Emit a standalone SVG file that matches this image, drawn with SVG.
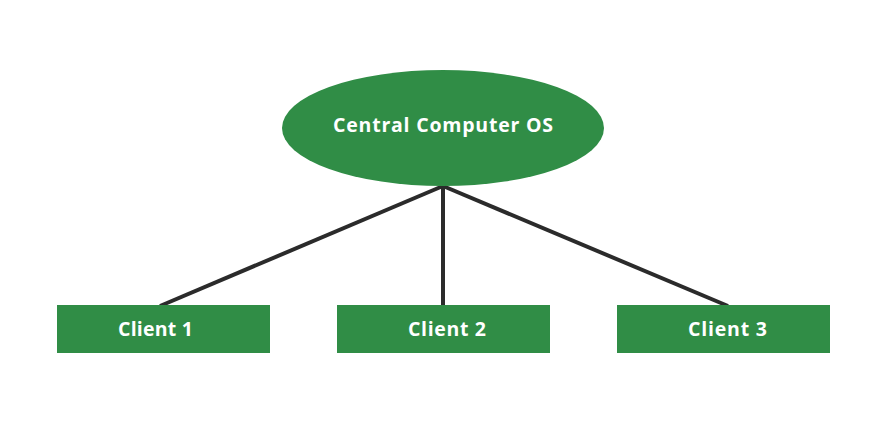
<svg xmlns="http://www.w3.org/2000/svg" width="889" height="435" viewBox="0 0 889 435">
<style>
.n{fill:#308d46}
.t{fill:#fff;font-family:"Open Sans","Liberation Sans",sans-serif;font-weight:700;font-size:19.5px;text-anchor:middle}
.c{stroke:#2b2b2b;stroke-width:4;fill:none}
</style>
<rect width="889" height="435" fill="#fff"/>
<g id="connectors">
<line class="c" x1="443" y1="186" x2="160" y2="306"/>
<line class="c" x1="443" y1="186" x2="443" y2="306"/>
<line class="c" x1="443" y1="186" x2="728" y2="306"/>
</g>
<g id="central">
<ellipse class="n" cx="443" cy="128" rx="161" ry="58"/>
<text class="t" x="443" y="132" textLength="220" lengthAdjust="spacing">Central Computer OS</text>
</g>
<g id="client1">
<rect class="n" x="57" y="305" width="213" height="48"/>
<text class="t" x="155.5" y="336" textLength="75" lengthAdjust="spacing">Client 1</text>
</g>
<g id="client2">
<rect class="n" x="337" y="305" width="213" height="48"/>
<text class="t" x="447" y="336" textLength="78" lengthAdjust="spacing">Client 2</text>
</g>
<g id="client3">
<rect class="n" x="617" y="305" width="213" height="48"/>
<text class="t" x="727.5" y="336" textLength="79" lengthAdjust="spacing">Client 3</text>
</g>
</svg>
